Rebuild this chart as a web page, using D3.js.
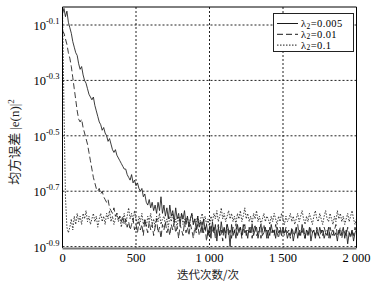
<!DOCTYPE html>
<html>
<head>
<meta charset="utf-8">
<script src="https://cdn.jsdelivr.net/npm/d3@7"></script>
<style>
    body { margin: 0; background: #fff; }
    svg { display: block; }
</style>
</head>
<body>
<div id="chart"></div>
<script>
// iterations are sampled every 10 steps, values are log10 of the MSE
const iterStep = 10;

const series005 = [
    -0.06,-0.04,-0.07,-0.05,-0.09,-0.11,-0.13,-0.16,-0.18,-0.20,
    -0.21,-0.24,-0.26,-0.25,-0.28,-0.30,-0.31,-0.33,-0.35,-0.36,
    -0.37,-0.36,-0.39,-0.41,-0.43,-0.45,-0.46,-0.48,-0.47,-0.49,
    -0.50,-0.52,-0.51,-0.53,-0.55,-0.56,-0.55,-0.57,-0.58,-0.59,
    -0.60,-0.61,-0.62,-0.62,-0.64,-0.65,-0.66,-0.64,-0.67,-0.66,
    -0.68,-0.67,-0.69,-0.70,-0.69,-0.72,-0.71,-0.74,-0.75,-0.73,
    -0.76,-0.74,-0.77,-0.75,-0.78,-0.74,-0.77,-0.72,-0.78,-0.75,
    -0.79,-0.76,-0.80,-0.75,-0.79,-0.77,-0.81,-0.76,-0.80,-0.78,
    -0.82,-0.78,-0.80,-0.77,-0.82,-0.79,-0.83,-0.80,-0.78,-0.82,
    -0.80,-0.84,-0.79,-0.83,-0.81,-0.85,-0.80,-0.84,-0.82,-0.86,
    -0.83,-0.87,-0.81,-0.85,-0.82,-0.88,-0.83,-0.86,-0.81,-0.85,
    -0.83,-0.87,-0.82,-0.84,-0.90,-0.82,-0.86,-0.84,-0.87,-0.82,
    -0.85,-0.83,-0.86,-0.82,-0.85,-0.84,-0.87,-0.83,-0.85,-0.82,
    -0.86,-0.84,-0.83,-0.87,-0.84,-0.82,-0.86,-0.85,-0.83,-0.87,
    -0.84,-0.86,-0.82,-0.85,-0.84,-0.87,-0.83,-0.85,-0.84,-0.86,
    -0.83,-0.85,-0.84,-0.87,-0.85,-0.86,-0.84,-0.88,-0.85,-0.83,
    -0.87,-0.84,-0.86,-0.82,-0.85,-0.87,-0.84,-0.86,-0.83,-0.88,
    -0.85,-0.84,-0.87,-0.84,-0.86,-0.83,-0.85,-0.84,-0.87,-0.85,
    -0.86,-0.83,-0.87,-0.85,-0.84,-0.86,-0.85,-0.88,-0.84,-0.86,
    -0.85,-0.83,-0.87,-0.84,-0.89,-0.85,-0.86,-0.84,-0.88,-0.85,
    -0.84
];

const series01 = [
    -0.12,-0.13,-0.15,-0.17,-0.20,-0.22,-0.25,-0.29,-0.33,-0.37,
    -0.41,-0.44,-0.45,-0.44,-0.47,-0.49,-0.51,-0.53,-0.56,-0.59,
    -0.62,-0.65,-0.67,-0.69,-0.70,-0.69,-0.71,-0.70,-0.72,-0.73,
    -0.74,-0.73,-0.76,-0.77,-0.78,-0.76,-0.79,-0.78,-0.80,-0.79,
    -0.81,-0.79,-0.82,-0.80,-0.83,-0.81,-0.84,-0.82,-0.80,-0.84,
    -0.82,-0.85,-0.81,-0.84,-0.82,-0.86,-0.80,-0.83,-0.85,-0.81,
    -0.84,-0.82,-0.86,-0.83,-0.80,-0.85,-0.83,-0.87,-0.82,-0.84,
    -0.81,-0.85,-0.83,-0.86,-0.82,-0.84,-0.81,-0.85,-0.83,-0.87,
    -0.82,-0.84,-0.86,-0.81,-0.85,-0.83,-0.86,-0.82,-0.84,-0.87,
    -0.83,-0.85,-0.82,-0.86,-0.84,-0.81,-0.85,-0.83,-0.88,-0.84,
    -0.86,-0.82,-0.85,-0.83,-0.87,-0.84,-0.82,-0.86,-0.84,-0.88,
    -0.83,-0.85,-0.82,-0.86,-0.84,-0.87,-0.83,-0.85,-0.82,-0.86,
    -0.84,-0.83,-0.87,-0.84,-0.82,-0.86,-0.84,-0.85,-0.83,-0.87,
    -0.84,-0.82,-0.86,-0.85,-0.83,-0.87,-0.84,-0.82,-0.85,-0.84,
    -0.87,-0.83,-0.85,-0.84,-0.86,-0.82,-0.85,-0.87,-0.83,-0.85,
    -0.84,-0.86,-0.83,-0.85,-0.84,-0.87,-0.83,-0.85,-0.86,-0.84,
    -0.82,-0.86,-0.84,-0.85,-0.83,-0.87,-0.84,-0.85,-0.86,-0.83,
    -0.85,-0.84,-0.86,-0.83,-0.85,-0.87,-0.84,-0.86,-0.83,-0.85,
    -0.84,-0.87,-0.83,-0.85,-0.86,-0.84,-0.82,-0.86,-0.85,-0.83,
    -0.87,-0.84,-0.85,-0.86,-0.83,-0.85,-0.87,-0.84,-0.86,-0.83,
    -0.85
];

const series1 = [
    -0.04,-0.40,-0.72,-0.83,-0.85,-0.83,-0.80,-0.84,-0.79,-0.82,
    -0.78,-0.81,-0.79,-0.82,-0.78,-0.80,-0.77,-0.81,-0.79,-0.82,
    -0.80,-0.78,-0.81,-0.79,-0.83,-0.80,-0.78,-0.81,-0.79,-0.82,
    -0.78,-0.80,-0.77,-0.81,-0.79,-0.82,-0.80,-0.78,-0.81,-0.79,
    -0.83,-0.80,-0.78,-0.82,-0.79,-0.76,-0.80,-0.78,-0.81,-0.77,
    -0.80,-0.82,-0.79,-0.81,-0.78,-0.82,-0.80,-0.83,-0.79,-0.81,
    -0.78,-0.82,-0.80,-0.83,-0.79,-0.81,-0.78,-0.82,-0.80,-0.79,
    -0.82,-0.80,-0.83,-0.79,-0.81,-0.78,-0.82,-0.80,-0.83,-0.79,
    -0.81,-0.78,-0.82,-0.80,-0.81,-0.79,-0.83,-0.80,-0.78,-0.82,
    -0.80,-0.81,-0.79,-0.82,-0.80,-0.78,-0.81,-0.79,-0.82,-0.80,
    -0.83,-0.79,-0.81,-0.78,-0.80,-0.77,-0.81,-0.79,-0.76,-0.80,
    -0.78,-0.81,-0.79,-0.77,-0.80,-0.78,-0.81,-0.79,-0.82,-0.78,
    -0.80,-0.77,-0.81,-0.79,-0.76,-0.80,-0.78,-0.81,-0.79,-0.82,
    -0.78,-0.80,-0.77,-0.81,-0.79,-0.82,-0.80,-0.78,-0.81,-0.79,
    -0.80,-0.82,-0.79,-0.81,-0.78,-0.80,-0.82,-0.79,-0.81,-0.78,
    -0.80,-0.82,-0.79,-0.81,-0.80,-0.78,-0.81,-0.79,-0.82,-0.80,
    -0.78,-0.81,-0.79,-0.77,-0.80,-0.82,-0.79,-0.81,-0.78,-0.80,
    -0.82,-0.79,-0.77,-0.80,-0.81,-0.78,-0.80,-0.82,-0.79,-0.77,
    -0.80,-0.81,-0.78,-0.80,-0.82,-0.79,-0.81,-0.77,-0.80,-0.78,
    -0.81,-0.79,-0.82,-0.80,-0.78,-0.81,-0.79,-0.77,-0.80,-0.82,
    -0.80
];

const legendLabels = ["0.005", "0.01", "0.1"];
const lineDashes = [null, "6,3", "1.5,1.5"];

const xTicks = [0, 500, 1000, 1500, 2000];
const xTickLabels = ["0", "500", "1 000", "1 500", "2 000"];
const yTickExps = [-0.1, -0.3, -0.5, -0.7, -0.9];
const yTickLabels = ["-0.1", "-0.3", "-0.5", "-0.7", "-0.9"];

class MseChart {
    constructor(_parentElement, _series) {
        this.parentElement = _parentElement;
        this.series = _series;
        this.initVis();
    }

    initVis() {
        const vis = this;

        vis.margin = { top: 7, right: 20, bottom: 44, left: 62.5 };
        vis.width = 377 - vis.margin.left - vis.margin.right;
        vis.height = 292 - vis.margin.top - vis.margin.bottom;

        vis.root = d3.select(vis.parentElement)
            .append("svg")
            .attr("width", 377)
            .attr("height", 292);

        vis.svg = vis.root.append("g")
            .attr("transform", `translate(${vis.margin.left},${vis.margin.top})`);

        vis.x = d3.scaleLinear()
            .domain([0, 2000])
            .range([0, 294]);

        vis.y = d3.scaleLog()
            .domain([10 ** -0.905, 10 ** -0.035])
            .range([vis.height, 0]);

        vis.svg.append("clipPath").attr("id", "plotClip")
            .append("rect")
            .attr("width", vis.x(2000) + 1)
            .attr("height", vis.height);

        // grid
        vis.svg.selectAll(".vgrid")
            .data(xTicks.slice(1, -1))
            .enter()
            .append("line")
            .attr("x1", d => vis.x(d)).attr("x2", d => vis.x(d))
            .attr("y1", 0).attr("y2", vis.height)
            .attr("stroke", "#222")
            .attr("stroke-dasharray", "2,2");

        vis.svg.selectAll(".hgrid")
            .data(yTickExps)
            .enter()
            .append("line")
            .attr("x1", 0).attr("x2", vis.x(2000))
            .attr("y1", d => vis.y(10 ** d)).attr("y2", d => vis.y(10 ** d))
            .attr("stroke", "#222")
            .attr("stroke-dasharray", "2,2");

        vis.line = d3.line()
            .x((d, i) => vis.x(i * iterStep))
            .y(d => vis.y(10 ** d));

        vis.svg.append("g")
            .attr("clip-path", "url(#plotClip)")
            .selectAll("path")
            .data(vis.series)
            .enter()
            .append("path")
            .attr("d", d => vis.line(d))
            .attr("fill", "none")
            .attr("stroke", "#1a1a1a")
            .attr("stroke-width", 0.85)
            .attr("stroke-dasharray", (d, i) => lineDashes[i]);

        // frame
        const fr = vis.svg.append("g").attr("fill", "none");
        fr.append("line").attr("x1", 0).attr("x2", 0).attr("y1", 0).attr("y2", vis.height).attr("stroke", "#000");
        fr.append("line").attr("x1", 0).attr("x2", vis.x(2000)).attr("y1", 0).attr("y2", 0).attr("stroke", "#000");
        fr.append("line").attr("x1", vis.x(2000)).attr("x2", vis.x(2000)).attr("y1", 0).attr("y2", vis.height).attr("stroke", "#000");
        fr.append("line").attr("x1", 0).attr("x2", vis.x(2000)).attr("y1", vis.height + 0.5).attr("y2", vis.height + 0.5)
            .attr("stroke", "#777").attr("stroke-width", 2);

        vis.drawLabels();
        vis.drawLegend();
    }

    drawLabels() {
        const vis = this;
        const serif = "'Liberation Serif', 'Times New Roman', serif";

        vis.svg.selectAll(".xlab")
            .data(xTicks)
            .enter()
            .append("text")
            .attr("x", d => vis.x(d))
            .attr("y", vis.height + 14)
            .attr("text-anchor", "middle")
            .attr("font-family", serif)
            .attr("font-size", 12.5)
            .text((d, i) => xTickLabels[i]);

        const yl = vis.svg.selectAll(".ylab")
            .data(yTickExps)
            .enter()
            .append("text")
            .attr("x", -3)
            .attr("y", d => vis.y(10 ** d) + 5)
            .attr("text-anchor", "end")
            .attr("font-family", serif)
            .attr("font-size", 12.5);
        yl.append("tspan").text("10");
        yl.append("tspan")
            .attr("dy", -6)
            .attr("font-size", 8.5)
            .text((d, i) => yTickLabels[i]);

        vis.root.append("text")
            .attr("x", 208)
            .attr("y", 279)
            .attr("text-anchor", "middle")
            .attr("font-family", "'Noto Sans CJK SC'")
            .attr("font-size", 11.5)
            .attr("fill", "#222")
            .text("迭代次数/次");

        const yt = vis.root.append("text")
            .attr("transform", "translate(19,142) rotate(-90)")
            .attr("text-anchor", "middle")
            .attr("font-size", 13)
            .attr("fill", "#222");
        yt.append("tspan").attr("font-family", "'Noto Sans CJK SC'").text("均方误差");
        yt.append("tspan").attr("font-family", serif).attr("dx", 3).text("|e(n)|");
        yt.append("tspan").attr("font-family", serif).attr("font-size", 9).attr("dy", -5).text("2");
    }

    drawLegend() {
        const vis = this;
        const serif = "'Liberation Serif', 'Times New Roman', serif";
        const lg = vis.root.append("g");

        lg.append("rect")
            .attr("x", 273.5).attr("y", 13.5)
            .attr("width", 80).attr("height", 38)
            .attr("fill", "#fff")
            .attr("stroke", "#222");

        const rows = lg.selectAll(".row")
            .data(legendLabels)
            .enter()
            .append("g")
            .attr("transform", (d, i) => `translate(0,${23.5 + i * 10.8})`);

        rows.append("line")
            .attr("x1", 277).attr("x2", 298)
            .attr("stroke", "#1a1a1a")
            .attr("stroke-dasharray", (d, i) => lineDashes[i]);

        const t = rows.append("text")
            .attr("x", 301)
            .attr("y", 3.5)
            .attr("font-family", serif)
            .attr("font-size", 10.5)
            .attr("letter-spacing", 0.4);
        t.append("tspan").text("λ");
        t.append("tspan").attr("font-size", 7.5).attr("dy", 1.5).text("2");
        t.append("tspan").attr("dy", -1.5).text(d => "=" + d);
    }
}

new MseChart("#chart", [series005, series01, series1]);
</script>
</body>
</html>
